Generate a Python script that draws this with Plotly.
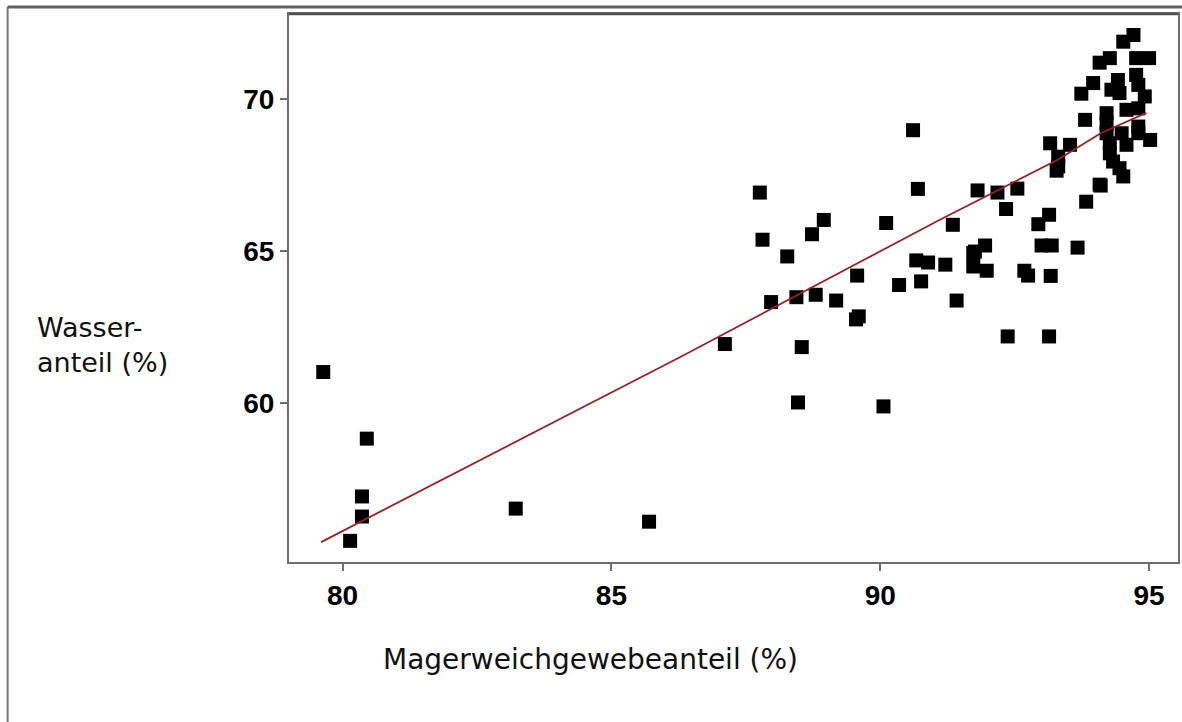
import plotly.graph_objects as go

# Scatter data: Magerweichgewebeanteil (%) vs Wasseranteil (%)
mager = [79.64, 80.45, 80.36, 80.36, 80.14, 83.22, 85.70,
         87.11, 87.76, 87.81, 87.97, 88.27, 88.44, 88.47, 88.54, 88.73, 88.80, 88.95,
         89.18, 89.57, 89.60, 89.55, 90.06, 90.11, 90.35, 90.61, 90.67, 90.70, 90.76,
         90.89, 91.21, 91.35, 91.42, 91.73, 91.73, 91.76, 91.81, 91.95, 91.98,
         92.18, 92.34, 92.37, 92.55, 92.68, 92.75, 92.94, 93.00, 93.14, 93.14, 93.17,
         93.19, 93.28, 93.16, 93.31, 93.31, 93.53, 93.67, 93.74, 93.81, 93.83, 93.96,
         94.08, 94.08, 94.10, 94.21, 94.21, 94.21, 94.27, 94.27, 94.27, 94.30, 94.33,
         94.42, 94.45, 94.45, 94.49, 94.52, 94.52, 94.58, 94.58, 94.71, 94.76, 95.00,
         94.76, 94.80, 94.80, 94.80, 94.80, 94.92, 95.02]
wasser = [61.02, 58.83, 56.93, 56.27, 55.47, 56.53, 56.10,
          61.94, 66.92, 65.37, 63.32, 64.82, 63.48, 60.02, 61.84, 65.55, 63.56, 66.02,
          63.37, 64.19, 62.85, 62.75, 59.89, 65.92, 63.88, 68.97, 64.69, 67.04, 64.00,
          64.62, 64.55, 65.86, 63.37, 64.93, 64.49, 64.98, 66.99, 65.18, 64.35,
          66.92, 66.38, 62.19, 67.05, 64.35, 64.19, 65.88, 65.18, 66.19, 62.19, 64.18,
          65.18, 67.64, 68.54, 68.10, 67.78, 68.49, 65.11, 70.17, 69.31, 66.62, 70.52,
          71.19, 67.18, 67.15, 69.53, 69.20, 68.87, 71.34, 68.54, 68.21, 70.30, 67.94,
          70.62, 70.19, 67.72, 68.87, 71.88, 67.45, 69.64, 68.49, 72.10, 71.34, 71.34,
          70.79, 70.46, 69.69, 69.09, 68.87, 70.08, 68.65]

# Fitted line
fit_x = [79.60, 86.30, 91.10, 93.30, 94.10, 94.95]
fit_y = [55.43, 61.53, 66.02, 68.00, 68.87, 69.54]

x_ticks = [80, 85, 90, 95]
y_ticks = [60, 65, 70]

fig = go.Figure()
fig.add_trace(go.Scatter(
    x=mager, y=wasser, mode="markers",
    marker=dict(symbol="square", size=14, color="black", line=dict(width=0)),
    hoverinfo="x+y", showlegend=False))
fig.add_trace(go.Scatter(
    x=fit_x, y=fit_y, mode="lines",
    line=dict(color="#962222", width=1.8),
    hoverinfo="skip", showlegend=False))

tickfont = dict(family="Liberation Sans, Arial, sans-serif", size=28, color="black", weight="bold")
axis_common = dict(showgrid=False, zeroline=False, showline=True, linecolor="#6e6e6e",
                   linewidth=2, mirror=True, ticks="outside", ticklen=7, tickwidth=1.5,
                   tickcolor="#6e6e6e", tickfont=tickfont)

fig.update_layout(
    width=1182, height=722,
    margin=dict(l=289, r=2, t=14, b=160),
    paper_bgcolor="white", plot_bgcolor="white",
    xaxis=dict(range=[79.003, 95.538], tickvals=x_ticks, ticktext=[str(v) for v in x_ticks],
               **axis_common),
    yaxis=dict(range=[54.775, 72.79], tickvals=y_ticks, ticktext=[str(v) for v in y_ticks],
               **axis_common),
    annotations=[
        dict(text="Magerweichgewebeanteil (%)", xref="paper", yref="paper",
             x=0.3387, y=-0.1788, xanchor="center", yanchor="middle", showarrow=False,
             font=dict(family="DejaVu Sans, sans-serif", size=28, color="#111111")),
        dict(text="Wasser-<br>anteil (%)", xref="paper", yref="paper",
             x=-0.2862, y=0.396, xanchor="left", yanchor="middle", align="left",
             showarrow=False,
             font=dict(family="DejaVu Sans, sans-serif", size=27, color="#111111")),
    ],
    shapes=[
        # outer frame (top and left)
        dict(type="line", xref="paper", yref="paper", x0=-0.3165, x1=1.01,
             y0=1.0128, y1=1.0128, line=dict(color="#606060", width=3)),
        dict(type="line", xref="paper", yref="paper", x0=-0.3165, x1=-0.3165,
             y0=1.0128, y1=-0.3, line=dict(color="#777777", width=2)),
        # darker top border of the plot box
        dict(type="line", xref="paper", yref="paper", x0=0, x1=1,
             y0=1, y1=1, line=dict(color="#505050", width=2.5)),
    ],
)

fig.write_html("out.html", config={"displayModeBar": False},
               post_script="document.body.style.margin='0';document.body.style.overflow='hidden';")
